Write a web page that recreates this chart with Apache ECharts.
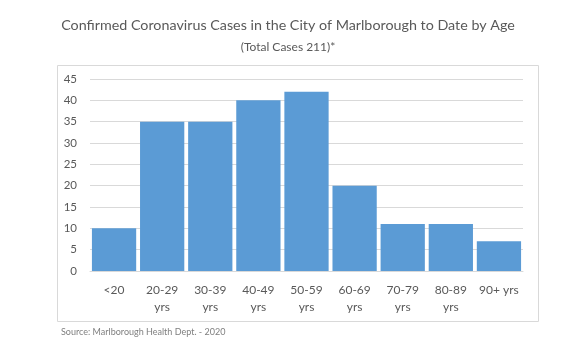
<!DOCTYPE html>
<html><head><meta charset="utf-8">
<script src="https://cdn.jsdelivr.net/npm/echarts@6/dist/echarts.min.js"></script>
<style>html,body{margin:0;padding:0;background:#fff}#c{width:576px;height:344px}</style>
</head><body><div id="c"></div>
<script>
const categories = ['<20', '20-29\nyrs', '30-39\nyrs', '40-49\nyrs', '50-59\nyrs', '60-69\nyrs', '70-79\nyrs', '80-89\nyrs', '90+ yrs'];
const cases = [10, 35, 35, 40, 42, 20, 11, 11, 7];
const titleText = 'Confirmed Coronavirus Cases in the City of Marlborough to Date by Age';
const subtitleText = '(Total Cases 211)*';
const sourceText = 'Source: Marlborough Health Dept. - 2020';

const chart = echarts.init(document.getElementById('c'), null, {renderer: 'canvas'});
const font = 'Lato, "Open Sans", sans-serif';
chart.setOption({
  animation: false,
  title: [{
    text: titleText, left: 'center', top: 13,
    textStyle: {fontFamily: font, fontSize: 14.3, fontWeight: 'normal', color: '#595959'}
  }, {
    text: subtitleText, left: 'center', top: 36,
    textStyle: {fontFamily: font, fontSize: 12, fontWeight: 'normal', color: '#595959'}
  }, {
    text: sourceText, left: 56, top: 323,
    textStyle: {fontFamily: font, fontSize: 9, fontWeight: 'normal', color: '#7f7f7f'}
  }],
  graphic: [{
    type: 'rect', shape: {x: 57.5, y: 65.5, width: 481, height: 256},
    style: {fill: 'none', stroke: '#d9d9d9', lineWidth: 1}, silent: true, z: -1
  }],
  grid: {left: 90, right: 53, top: 79, bottom: 73, containLabel: false},
  xAxis: {
    type: 'category', data: categories,
    axisLine: {show: true, lineStyle: {color: '#d9d9d9', width: 1}},
    axisTick: {show: false},
    axisLabel: {fontFamily: font, fontSize: 12, color: '#595959', margin: 11, lineHeight: 17, interval: 0}
  },
  yAxis: {
    type: 'value', min: 0, max: 45, interval: 5,
    axisLine: {show: false}, axisTick: {show: false},
    splitLine: {lineStyle: {color: '#d9d9d9', width: 1}},
    axisLabel: {fontFamily: font, fontSize: 11.5, color: '#595959', margin: 13}
  },
  series: [{
    type: 'bar', data: cases, barCategoryGap: '8%',
    itemStyle: {color: '#5B9BD5'}
  }]
});
</script></body></html>
